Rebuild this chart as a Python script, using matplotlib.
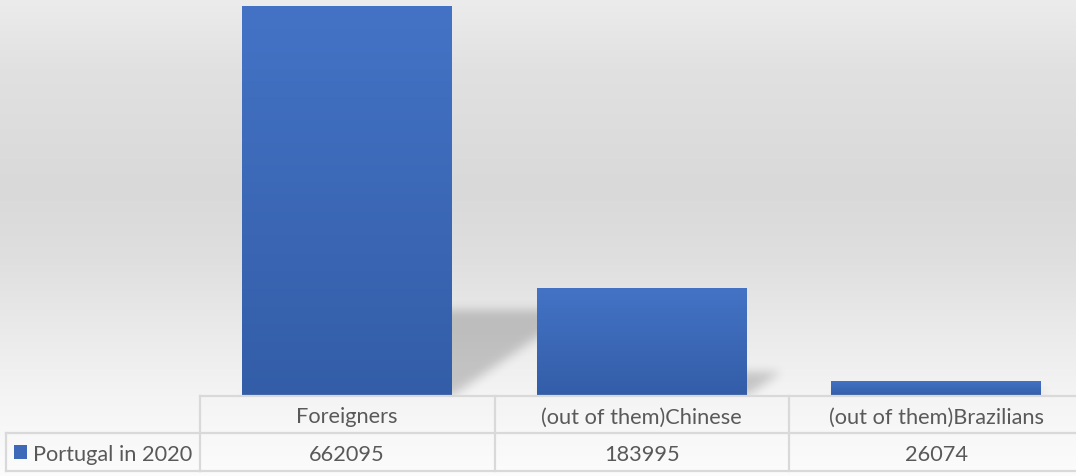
import numpy as np
import matplotlib
matplotlib.use("Agg")
import matplotlib.pyplot as plt
from matplotlib.path import Path
from matplotlib.patches import Rectangle
from matplotlib import transforms

# ---- data ----
categories = ["Foreigners", "(out of them)Chinese", "(out of them)Brazilians"]
series_name = "Portugal in 2020"
values = [662095, 183995, 26074]
value_labels = ["662095", "183995", "26074"]

# ---- figure geometry (pixels) ----
W, H, DPI = 1076, 477, 100
plot_left, plot_right = 200, 1083.5
plot_top, plot_bottom = 0, 397
row1_bottom, row2_bottom = 434, 472
table_left = 6

TEXT = "#595959"
GRID = "#d9d9d9"
FONT = ["Lato", "DejaVu Sans"]
FS = 15.7

fig = plt.figure(figsize=(W / DPI, H / DPI), dpi=DPI)

# background: soft vertical grey gradient
bg = fig.add_axes([0, 0, 1, 1], zorder=-10)
stops_y = np.array([0, 70, 190, 260, 330, 397, 477]) / H
stops_v = np.array([0xec, 0xe1, 0xd9, 0xdf, 0xea, 0xf4, 0xfc]) / 255
yy = np.linspace(0, 1, H)
shade = np.interp(yy, stops_y, stops_v)
bg_img = np.repeat(shade[:, None], 4, axis=1)
bg.imshow(np.dstack([bg_img] * 3), aspect="auto", extent=[0, 1, 0, 1], origin="upper")
bg.set_axis_off()

# main plot area
ax = fig.add_axes([plot_left / W, 1 - plot_bottom / H,
                   (plot_right - plot_left) / W, (plot_bottom - plot_top) / H])
ax.set_facecolor("none")
ax.set_axis_off()

n = len(values)
x = np.arange(n)
ymax = max(values) * 1.017
ax.set_xlim(-0.5, n - 0.5)
ax.set_ylim(0, ymax)
bar_w = 0.713

# perspective shadows behind the bars, rasterised and blurred
px_w = int(round(plot_right - plot_left))
px_h = plot_bottom - plot_top
gx = np.linspace(-0.5, n - 0.5, px_w)
gy = np.linspace(ymax, 0, px_h)
GX, GY = np.meshgrid(gx, gy)
pts = np.column_stack([GX.ravel(), GY.ravel()])
mask = np.zeros(px_w * px_h)
k = 0.22          # shadow height relative to bar height
skew = 1.45       # horizontal px per vertical px
data_per_px_x = n / (plot_right - plot_left)
data_per_px_y = ymax / px_h
for xi, v in zip(x, values):
    sh = k * v
    dx = skew * (sh / data_per_px_y) * data_per_px_x
    poly = Path([(xi - bar_w / 2, 0), (xi + bar_w / 2, 0),
                 (xi + bar_w / 2 + dx, sh), (xi - bar_w / 2 + dx, sh),
                 (xi - bar_w / 2, 0)])
    mask = np.maximum(mask, poly.contains_points(pts).astype(float))
mask = mask.reshape(px_h, px_w)
sig = 5.0
kx = np.arange(-15, 16)
kern = np.exp(-kx ** 2 / (2 * sig ** 2))
kern /= kern.sum()
mask = np.apply_along_axis(lambda r: np.convolve(r, kern, mode="same"), 1, mask)
mask = np.apply_along_axis(lambda c: np.convolve(c, kern, mode="same"), 0, mask)
shadow = np.zeros((px_h, px_w, 4))
shadow[..., 3] = 0.19 * mask
ax.imshow(shadow, extent=[-0.5, n - 0.5, 0, ymax], aspect="auto",
          origin="upper", zorder=1, interpolation="bilinear")

# bars with a top-to-bottom blue gradient
top_c = np.array([0x44, 0x73, 0xc6]) / 255
bot_c = np.array([0x33, 0x5d, 0xa7]) / 255
grad = np.linspace(0, 1, 256)[:, None]
grad_img = top_c[None, None, :] * (1 - grad[..., None]) + bot_c[None, None, :] * grad[..., None]
bars = ax.bar(x, values, width=bar_w, color="#3f6bbb", zorder=2)
for b in bars:
    x0, y0 = b.get_x(), b.get_y()
    im = ax.imshow(grad_img, extent=[x0, x0 + b.get_width(), y0, y0 + b.get_height()],
                   aspect="auto", origin="upper", zorder=3)
    im.set_clip_path(b)
ax.set_xlim(-0.5, n - 0.5)
ax.set_ylim(0, ymax)

# data table below the plot
tr = transforms.blended_transform_factory(ax.transData, fig.transFigure)
fy = lambda p: 1 - p / H
lkw = dict(color=GRID, lw=1.6, transform=tr, clip_on=False, zorder=5)
ax.plot([-0.5, n - 0.5], [fy(plot_bottom)] * 2, **lkw)
ax.plot([-0.5, n - 0.5], [fy(row1_bottom)] * 2, **lkw)
ax.plot([-0.5, n - 0.5], [fy(row2_bottom)] * 2, **lkw)
for xe in np.arange(n + 1) - 0.5:
    ax.plot([xe, xe], [fy(plot_bottom), fy(row2_bottom)], **lkw)

# legend cell on the left
fkw = dict(color=GRID, lw=1.6, transform=fig.transFigure, clip_on=False)
fig.add_artist(plt.Line2D([table_left / W, plot_left / W], [fy(row1_bottom)] * 2, **fkw))
fig.add_artist(plt.Line2D([table_left / W, plot_left / W], [fy(row2_bottom)] * 2, **fkw))
fig.add_artist(plt.Line2D([table_left / W] * 2, [fy(row1_bottom), fy(row2_bottom)], **fkw))
fig.add_artist(Rectangle((14 / W, fy(460)), 13 / W, 14 / H, transform=fig.transFigure,
                         facecolor="#3d69b8", edgecolor="none"))
fig.text(33 / W, fy((row1_bottom + row2_bottom) / 2), series_name, ha="left",
         va="center_baseline", color=TEXT, fontsize=FS, family=FONT)

for xi, cat, lab in zip(x, categories, value_labels):
    ax.text(xi, fy((plot_bottom + row1_bottom) / 2), cat, transform=tr, ha="center",
            va="center_baseline", color=TEXT, fontsize=FS, family=FONT)
    ax.text(xi, fy((row1_bottom + row2_bottom) / 2), lab, transform=tr, ha="center",
            va="center_baseline", color=TEXT, fontsize=FS, family=FONT)

fig.savefig("out.png", dpi=DPI)
